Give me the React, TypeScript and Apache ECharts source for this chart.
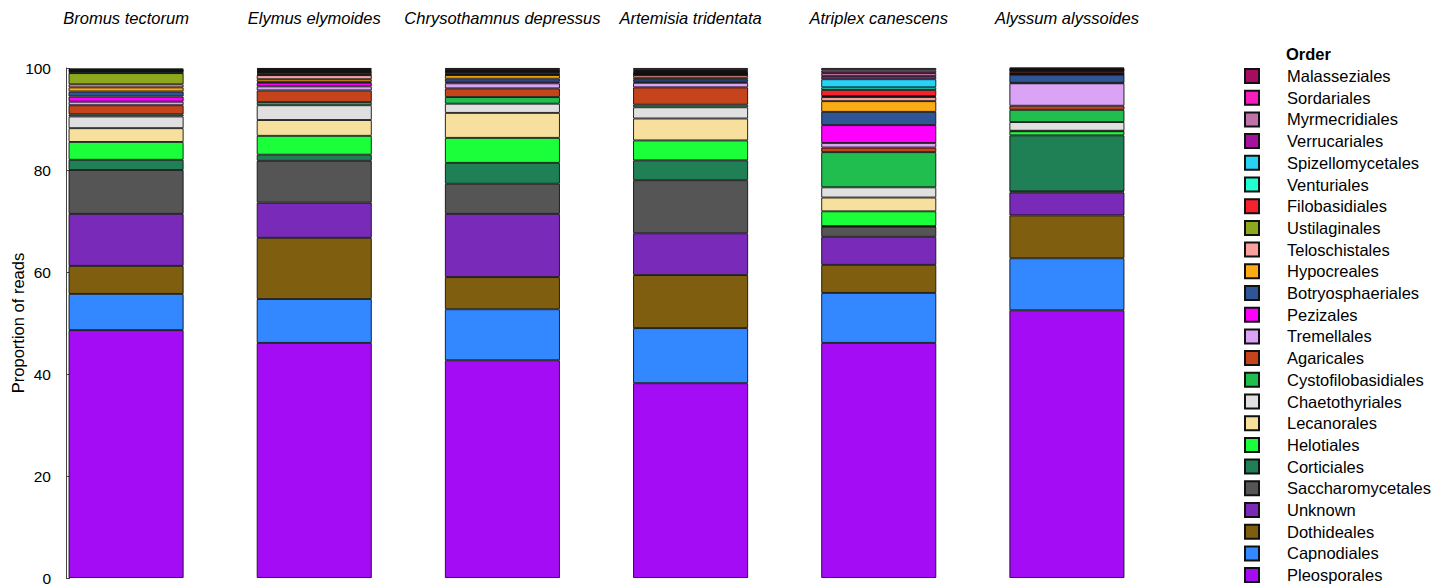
import React, { useEffect, useRef } from "react";
import * as echarts from "echarts";

const species = [
  "Bromus tectorum",
  "Elymus elymoides",
  "Chrysothamnus depressus",
  "Artemisia tridentata",
  "Atriplex canescens",
  "Alyssum alyssoides",
];

// stacking order: bottom -> top
const orders = [
  "Pleosporales", "Capnodiales", "Dothideales", "Unknown", "Saccharomycetales",
  "Corticiales", "Helotiales", "Lecanorales", "Chaetothyriales", "Cystofilobasidiales",
  "Agaricales", "Tremellales", "Pezizales", "Botryosphaeriales", "Hypocreales",
  "Teloschistales", "Ustilaginales", "Filobasidiales", "Venturiales", "Spizellomycetales",
  "Verrucariales", "Myrmecridiales", "Sordariales", "Malasseziales",
];

const orderColors = [
  "#a40cf5", "#3388ff", "#7f5f0f", "#7a2ab8", "#555555",
  "#1f7f55", "#1aff3a", "#f7df9e", "#e0e0e0", "#1fbe4f",
  "#c5441c", "#dba3f5", "#ff00ff", "#2f5597", "#fbab14",
  "#f7a19e", "#8da81c", "#f5222e", "#1fffd2", "#27d2f5",
  "#a5129e", "#c073a8", "#f81dbf", "#a50d5e",
];

// proportions per species, in the stacking order above
const bromus = [48.6, 7.1, 5.5, 10.2, 8.6, 2.0, 3.5, 2.7, 2.3, 0.4, 1.8, 0.7, 1.0, 1.0, 0.8, 0.6, 2.2, 0.1, 0.2, 0.1, 0.1, 0.1, 0.1, 0.2];
const elymus = [46.1, 8.6, 12.0, 6.9, 8.2, 1.2, 3.7, 3.1, 2.9, 0.6, 2.3, 0.8, 0.7, 0.2, 0.5, 0.8, 0.1, 0.2, 0.2, 0.1, 0.2, 0.2, 0.2, 0.2];
const chrysothamnus = [42.7, 10.0, 6.3, 12.4, 5.9, 4.1, 4.9, 4.9, 1.8, 1.3, 1.7, 1.0, 0.3, 0.6, 0.7, 0.1, 0.1, 0.1, 0.3, 0.1, 0.1, 0.2, 0.1, 0.3];
const artemisia = [38.2, 10.8, 10.4, 8.2, 10.4, 3.9, 3.9, 4.3, 2.2, 0.5, 3.4, 0.9, 0.2, 0.5, 0.3, 0.5, 0.1, 0.1, 0.1, 0.1, 0.2, 0.2, 0.2, 0.4];
const atriplex = [46.1, 9.8, 5.5, 5.5, 2.0, 0.1, 2.9, 2.7, 2.0, 6.9, 0.9, 0.9, 3.5, 2.6, 2.1, 0.8, 0.2, 1.2, 0.5, 1.6, 0.6, 0.6, 0.5, 0.5];
const alyssum = [52.5, 10.2, 8.4, 4.5, 0.2, 11.0, 0.8, 0.1, 1.7, 2.4, 0.8, 4.4, 0.1, 1.6, 0.1, 0.1, 0.1, 0.4, 0.1, 0.1, 0.1, 0.1, 0.1, 0.2];

const speciesValues = [bromus, elymus, chrysothamnus, artemisia, atriplex, alyssum];

const yTicks = [0, 20, 40, 60, 80, 100];

const FONT = "Liberation Sans, Arial, Helvetica, sans-serif";

export default function App() {
  const ref = useRef<HTMLDivElement>(null);

  useEffect(() => {
    if (!ref.current) return;
    const chart = echarts.init(ref.current, undefined, { renderer: "svg" });
    const series = orders.map((name, i) => ({
      name,
      type: "bar",
      stack: "total",
      barWidth: 115,
      data: speciesValues.map((arr) => arr[i]),
      itemStyle: { color: orderColors[i], borderColor: "#111", borderWidth: 0.9 },
      emphasis: { disabled: true },
    }));
    chart.setOption({
      animation: false,
      textStyle: { fontFamily: FONT },
      grid: {
        left: 32,
        top: 68,
        width: 1129,
        height: 510,
        containLabel: false,
        outerBoundsMode: "none",
      },
      xAxis: {
        type: "category",
        position: "top",
        data: species,
        axisLine: { show: false },
        axisTick: { show: false },
        axisLabel: {
          interval: 0,
          margin: 42,
          fontSize: 16.5,
          fontStyle: "italic",
          color: "#000",
          fontFamily: FONT,
        },
      },
      yAxis: {
        type: "value",
        min: yTicks[0],
        max: yTicks[yTicks.length - 1],
        interval: 20,
        offset: -34,
        splitLine: { show: false },
        axisLine: { show: true, lineStyle: { color: "#444", width: 1 } },
        axisTick: { show: true, inside: true, length: 4, lineStyle: { color: "#444" } },
        axisLabel: { fontSize: 15.5, color: "#000", margin: 15, fontFamily: FONT },
        name: "Proportion of reads",
        nameLocation: "middle",
        nameGap: 40,
        nameMoveOverlap: false,
        nameTextStyle: { fontSize: 16.5, color: "#000", fontFamily: FONT },
      },
      legend: {
        orient: "vertical",
        left: 1244,
        top: 67.5,
        height: 560,
        padding: 0,
        itemWidth: 14,
        itemHeight: 14,
        itemGap: 4.7,
        icon: "rect",
        data: [...orders].reverse(),
        selectedMode: false,
        textStyle: {
          fontSize: 16.5,
          color: "#000",
          lineHeight: 16,
          padding: [0, 0, 0, 23],
          fontFamily: FONT,
        },
      },
      graphic: [
        {
          type: "text",
          left: 1286,
          top: 45,
          style: { text: "Order", font: `bold 16.5px ${FONT}`, fill: "#000" },
        },
      ],
      series,
    });
    return () => chart.dispose();
  }, []);

  return (
    <div
      ref={ref}
      style={{ position: "fixed", left: 0, top: 0, width: 1444, height: 584, background: "#fff" }}
    />
  );
}
